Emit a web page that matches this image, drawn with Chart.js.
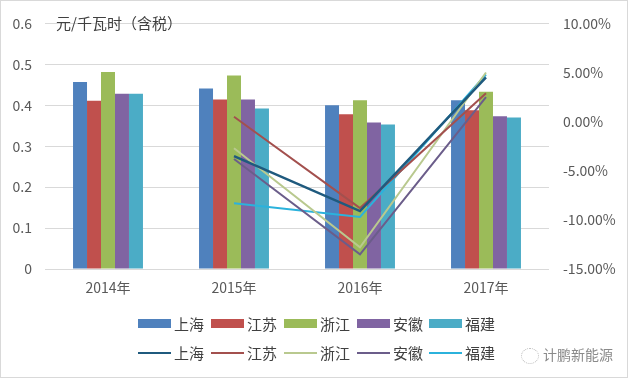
<!DOCTYPE html>
<html><head><meta charset="utf-8">
<script src="https://cdn.jsdelivr.net/npm/chart.js@4/dist/chart.umd.min.js"></script>
<style>
html,body{margin:0;padding:0;background:#fff;}
#wrap{position:relative;width:628px;height:378px;box-sizing:border-box;border:1px solid #d9d9d9;font-family:"Noto Sans CJK SC","Noto Sans",sans-serif;}
canvas{position:absolute;left:0;top:0;}
.unit{position:absolute;left:55px;top:11px;font-size:15px;color:#404040;white-space:nowrap;}
.leg{position:absolute;font-size:15px;color:#404040;white-space:nowrap;display:flex;align-items:center;}
.sw{display:inline-block;width:33px;margin-right:3px;}
.wm{position:absolute;left:520px;top:343px;font-size:14px;color:#8a8a8a;white-space:nowrap;}
.ic{display:inline-block;width:16px;height:14px;border:1px dotted #bbb;border-radius:50%;vertical-align:middle;margin-right:4px;}
</style></head>
<body><div id="wrap"><canvas id="c" width="628" height="378"></canvas>
<div class="unit">元/千瓦时（含税）</div>
<div id="legend"></div>
<div class="wm"><span class="ic"></span>计鹏新能源</div>
</div>
<script>
const categories = ['2014年','2015年','2016年','2017年'];
const provinces = ['上海','江苏','浙江','安徽','福建'];
// electricity price (yuan/kWh incl. tax)
const price_shanghai = [0.457, 0.441, 0.400, 0.412];
const price_jiangsu  = [0.411, 0.414, 0.378, 0.388];
const price_zhejiang = [0.481, 0.473, 0.412, 0.433];
const price_anhui    = [0.428, 0.414, 0.358, 0.373];
const price_fujian   = [0.428, 0.392, 0.353, 0.370];
// year-on-year change (%)
const growth_shanghai = [null, -3.5, -9.1, 4.5];
const growth_jiangsu  = [null, 0.5, -8.8, 2.9];
const growth_zhejiang = [null, -2.7, -12.8, 5.0];
const growth_anhui    = [null, -3.8, -13.5, 2.5];
const growth_fujian   = [null, -8.3, -9.7, 4.8];
const leftTicks = [0, 0.1, 0.2, 0.3, 0.4, 0.5, 0.6];
const rightTicks = [-15, -10, -5, 0, 5, 10];

const barColors = ['#4F81BD','#C0504D','#9BBB59','#8064A2','#4BACC6'];
const lineColors = ['#1F5A7E','#A3504E','#B9C98F','#6B5D8A','#2BB2DC'];
const prices = [price_shanghai, price_jiangsu, price_zhejiang, price_anhui, price_fujian];
const growths = [growth_shanghai, growth_jiangsu, growth_zhejiang, growth_anhui, growth_fujian];

const datasets = [];
provinces.forEach((p,i)=>{
  datasets.push({type:'bar', label:p, data:prices[i], backgroundColor:barColors[i], yAxisID:'y', order:2,
    categoryPercentage:0.555, barPercentage:1.0});
});
provinces.forEach((p,i)=>{
  datasets.push({type:'line', label:p, data:growths[i], borderColor:lineColors[i], backgroundColor:lineColors[i],
    borderWidth: i===0?2.5:2, pointRadius:0, yAxisID:'y1', order:1, spanGaps:false, tension:0});
});

const font = {family:'"Noto Sans CJK SC","Noto Sans",sans-serif', size:14};
new Chart(document.getElementById('c'), {
  data:{labels:categories, datasets},
  options:{
    responsive:false, animation:false,
    layout:{padding:{top:17, bottom:78, left:0, right:0}},
    plugins:{legend:{display:false}, tooltip:{enabled:false}},
    scales:{
      x:{grid:{display:false, drawTicks:false}, border:{display:false},
         ticks:{color:'#595959', font, padding:10},
         afterFit(s){ s.height = 32; }},
      y:{position:'left', min:0, max:0.6, afterBuildTicks(s){ s.ticks = leftTicks.map(v=>({value:v})); },
         grid:{color:'#d9d9d9', drawTicks:false}, border:{display:false},
         ticks:{color:'#595959', font, padding:13, callback:v=> v===0?'0':v.toFixed(1)},
         afterFit(s){ s.width = 44; }},
      y1:{position:'right', min:-15, max:10, afterBuildTicks(s){ s.ticks = rightTicks.map(v=>({value:v})); },
         grid:{display:false, drawTicks:false}, border:{display:false},
         ticks:{color:'#595959', font, padding:14, callback:v=> v.toFixed(2)+'%'},
         afterFit(s){ s.width = 80; }}
    }
  }
});

// HTML legend in two rows
const leg = document.getElementById('legend');
const xs = [137, 210, 283, 356, 428];
provinces.forEach((p,i)=>{
  const d = document.createElement('div'); d.className='leg';
  d.style.left = xs[i]+'px'; d.style.top = '312px';
  d.innerHTML = '<span class="sw" style="height:9px;background:'+barColors[i]+'"></span>'+p;
  leg.appendChild(d);
  const d2 = document.createElement('div'); d2.className='leg';
  d2.style.left = xs[i]+'px'; d2.style.top = '341px';
  d2.innerHTML = '<span class="sw" style="height:2px;background:'+lineColors[i]+'"></span>'+p;
  leg.appendChild(d2);
});
</script>
</body></html>
